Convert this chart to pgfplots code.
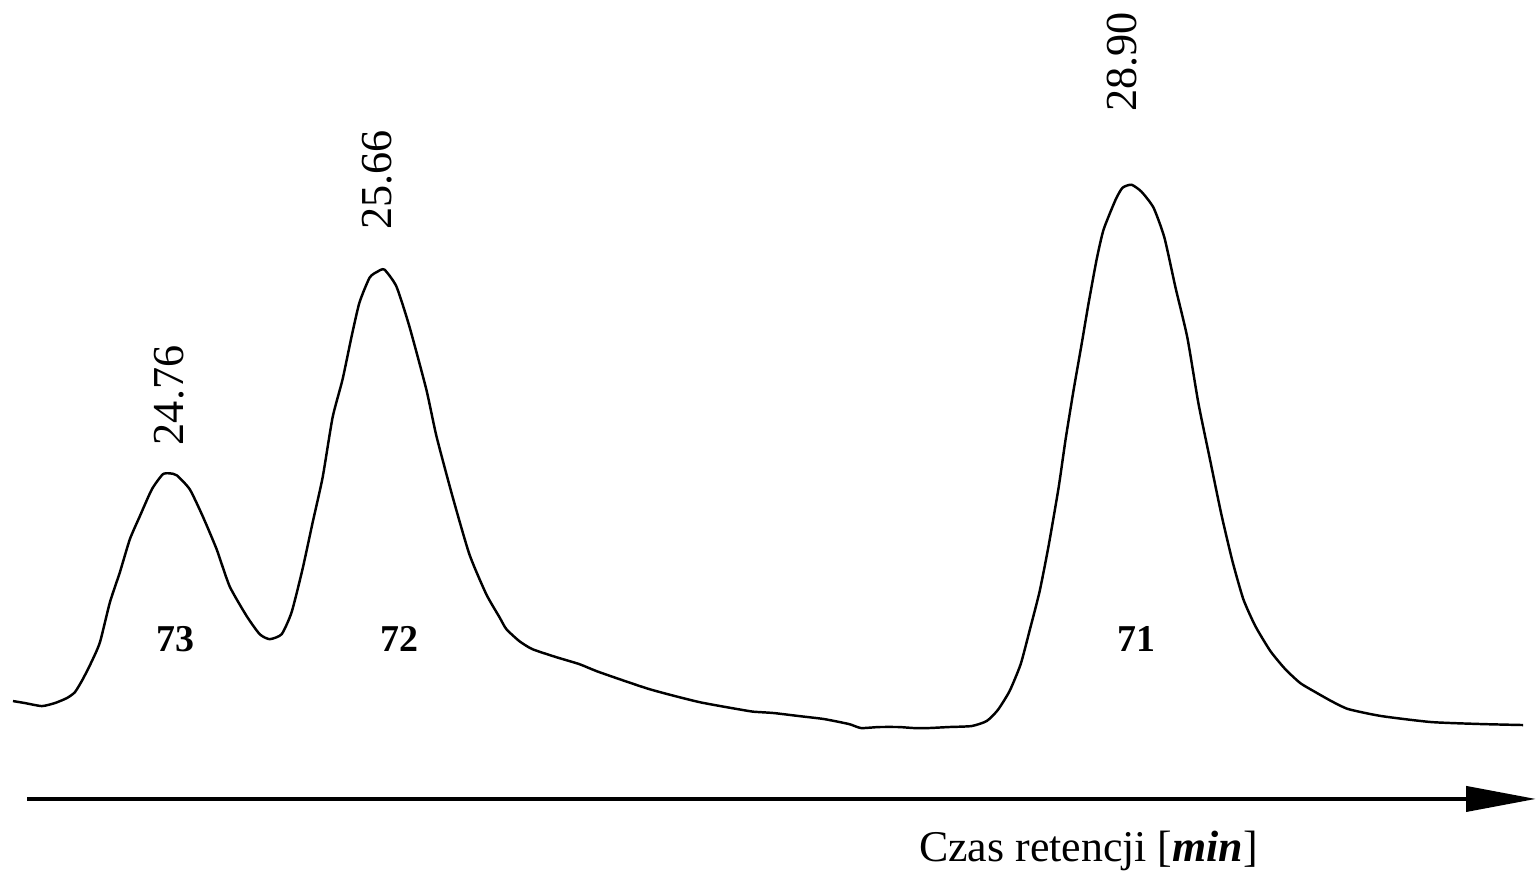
\documentclass[border=0pt]{standalone}
\usepackage{pgfplots}
\pgfplotsset{compat=1.18}
\usetikzlibrary{arrows.meta}
\usepackage{fontspec}
\setmainfont{Liberation Serif}
\pgfplotstableread{
t s
24.082 28
24.134 26
24.207 23
24.263 26
24.315 31
24.350 37
24.384 50
24.423 68
24.458 87
24.501 127
24.544 157
24.587 190
24.630 213
24.682 240
24.729 255
24.760 256
24.790 254
24.846 240
24.902 213
24.962 180
25.018 143
25.092 113
25.148 95
25.191 90
25.243 95
25.286 117
25.333 160
25.377 207
25.420 252
25.463 312
25.506 350
25.545 393
25.579 427
25.623 452
25.657 458
25.687 460
25.739 443
25.795 403
25.868 340
25.912 293
25.981 233
26.054 175
26.127 135
26.184 112
26.214 100
26.270 88
26.326 80
26.429 72
26.529 65
26.615 57
26.831 40
27.047 27
27.262 18
27.305 17
27.370 16
27.478 13
27.586 10
27.694 5
27.746 1
27.823 2
27.910 2
27.974 1
28.039 1
28.125 2
28.224 3
28.289 8
28.337 19
28.388 38
28.436 65
28.475 99
28.518 138
28.557 184
28.600 242
28.630 290
28.665 340
28.699 385
28.729 426
28.764 470
28.794 500
28.846 530
28.876 542
28.915 545
28.958 538
29.010 522
29.057 492
29.105 442
29.156 392
29.204 326
29.252 272
29.303 215
29.351 168
29.398 130
29.450 103
29.515 78
29.579 60
29.644 46
29.709 37
29.778 28
29.851 20
29.994 13
30.209 7
30.425 5
30.607 4
}\chrom
\begin{document}
\begin{tikzpicture}
\begin{axis}[
  scale only axis, width=15.38cm, height=8.89cm,
  xmin=24.026, xmax=30.6625, ymin=-159, ymax=730,
  hide axis, clip=false]
\path (axis cs:24.026,-159) rectangle (axis cs:30.6625,730);
\addplot[black, line width=0.7pt, mark=none, smooth, tension=0.35] table[x=t,y=s] {\chrom};
\draw[line width=1.15pt, -{Triangle[length=0.7cm,width=0.25cm]}] (axis cs:24.143,-70) -- (axis cs:30.6625,-70);
\node[rotate=90, font=\fontsize{12.6}{14}\selectfont] at (axis cs:24.755,334) {24.76};
\node[rotate=90, font=\fontsize{12.6}{14}\selectfont] at (axis cs:25.657,550) {25.66};
\node[rotate=90, font=\fontsize{12.6}{14}\selectfont] at (axis cs:28.876,668) {28.90};
\node[font=\fontsize{10.8}{12}\selectfont\bfseries] at (axis cs:24.786,90) {73};
\node[font=\fontsize{10.8}{12}\selectfont\bfseries] at (axis cs:25.752,90) {72};
\node[font=\fontsize{10.8}{12}\selectfont\bfseries] at (axis cs:28.936,90) {71};
\node[anchor=base, font=\fontsize{12.5}{14}\selectfont] at (axis cs:28.729,-133) {Czas retencji [\textbf{\textit{min}}]};
\end{axis}
\end{tikzpicture}
\end{document}
